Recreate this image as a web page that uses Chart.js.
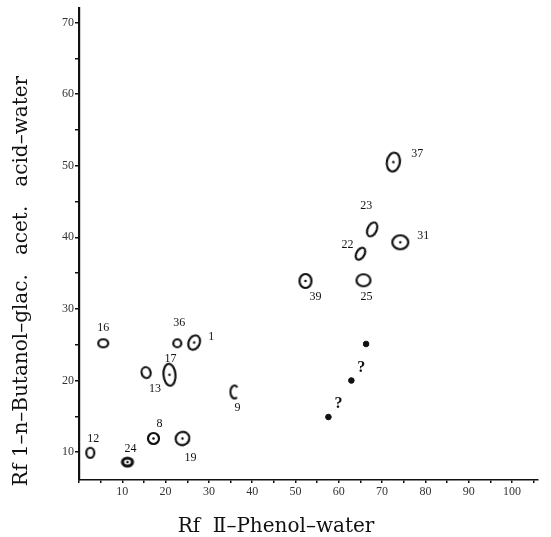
<!DOCTYPE html>
<html lang="en">
<head>
<meta charset="UTF-8">
<title>Rf map</title>
<script src="https://cdn.jsdelivr.net/npm/chart.js"></script>
<style>
  body { margin: 0; background: #fff; }
  #wrap { width: 551px; height: 537px; }
</style>
</head>
<body>
<div id="wrap"><canvas id="rfChart" width="551" height="537"></canvas></div>
<script>
// spot numbers with their Rf values (x: II phenol-water, y: I n-butanol/acetic acid/water)
const spotIds    = ['1', '8', '9', '12', '13', '16', '17', '19', '22', '23', '24', '25', '31', '36', '37', '39'];
const rfPhenol   = [26.6, 17.2, 35.9, 2.6, 15.5, 5.6, 20.9, 23.9, 65.0, 67.7, 11.2, 65.7, 74.2, 22.7, 72.6, 52.3];
const rfButanol  = [25.3, 11.9, 18.4, 9.9, 21.1, 25.2, 20.8, 11.9, 37.7, 41.1, 8.6, 34.0, 39.3, 25.2, 50.5, 33.9];

// unidentified spots
const unknownPhenol  = [57.6, 62.9, 66.3];
const unknownButanol = [14.9, 20.0, 25.1];
const unknownMarks   = ['?', '?', ''];

const xTitle = 'Rf  \u2161\u2013Phenol\u2013water';
const yTitle = 'Rf 1\u2013n\u2013Butanol\u2013glac.   acet.   acid\u2013water';

// drawing of each spot: [rx, ry, centre dot, kind], tilt in degrees, label offset in px
const spotShape = [
  [5.5, 7.5, true, ''], [5.5, 5.5, true, ''], [4, 6.5, false, 'c'], [4, 5, false, ''],
  [4.5, 5.5, false, ''], [5, 4, false, ''], [6, 11, true, ''], [7, 6.5, true, ''],
  [4, 6.5, false, ''], [4.5, 7.5, false, ''], [5, 4, true, 'thick'], [7, 6, false, ''],
  [8, 7, true, ''], [4, 4, false, ''], [6.5, 9.5, true, ''], [6, 7, true, '']
];
const spotTilt = [25, 0, 0, 0, -15, 0, -5, -30, 30, 25, 0, 0, 0, 0, 10, 0];
const labelOffset = [
  [17, -6], [6, -15], [3, 16], [3, -14], [9, 16], [0, -15], [1, -16], [8, 19],
  [-13, -9], [-6, -24], [3, -13], [3, 17], [23, -6], [2, -20], [24, -8], [10, 16]
];

function spotImage(rx, ry, dot, kind) {
    const c = document.createElement('canvas');
    const w = Math.ceil(rx * 2 + 6), h = Math.ceil(ry * 2 + 6);
    c.width = w; c.height = h;
    const g = c.getContext('2d');
    g.strokeStyle = '#111';
    g.fillStyle = '#111';
    g.lineWidth = kind === 'thick' ? 3.2 : 2.2;
    g.beginPath();
    if (kind === 'c') {
        g.ellipse(w / 2, h / 2, rx, ry, 0, Math.PI * 0.3, Math.PI * 1.75);
    } else {
        g.ellipse(w / 2, h / 2, rx, ry, 0, 0, Math.PI * 2);
    }
    g.stroke();
    if (dot) {
        g.beginPath();
        g.arc(w / 2, h / 2, 1.3, 0, Math.PI * 2);
        g.fill();
    }
    return c;
}

const spotStyles = spotShape.map(s => spotImage(s[0], s[1], s[2], s[3]));

const spotLabels = {
    id: 'spotLabels',
    afterDatasetsDraw(chart) {
        const ctx = chart.ctx;
        ctx.save();
        ctx.fillStyle = '#111';
        ctx.textAlign = 'center';
        ctx.textBaseline = 'middle';
        ctx.font = '12px "Liberation Serif"';
        chart.getDatasetMeta(0).data.forEach((pt, i) => {
            ctx.fillText(spotIds[i], pt.x + labelOffset[i][0], pt.y + labelOffset[i][1]);
        });
        ctx.font = 'bold 16px "Liberation Serif"';
        chart.getDatasetMeta(1).data.forEach((pt, i) => {
            if (unknownMarks[i]) ctx.fillText(unknownMarks[i], pt.x + 10, pt.y - 13);
        });
        ctx.restore();
    }
};

const axisTitles = {
    id: 'axisTitles',
    afterDraw(chart) {
        const ctx = chart.ctx;
        ctx.save();
        ctx.fillStyle = '#111';
        ctx.font = '20px "DejaVu Serif"';
        ctx.textAlign = 'center';
        ctx.textBaseline = 'middle';
        ctx.fillText(xTitle, 276, 527);
        ctx.translate(22, 281);
        ctx.rotate(-Math.PI / 2);
        ctx.fillText(yTitle, 0, 0);
        ctx.restore();
    }
};

new Chart(document.getElementById('rfChart'), {
    type: 'scatter',
    data: {
        datasets: [{
            label: 'spots',
            data: spotIds.map((id, i) => ({ x: rfPhenol[i], y: rfButanol[i] })),
            pointStyle: spotStyles,
            rotation: spotTilt,
            pointRadius: 6
        }, {
            label: 'unknown',
            data: unknownPhenol.map((v, i) => ({ x: v, y: unknownButanol[i] })),
            pointStyle: 'circle',
            pointRadius: 2.8,
            backgroundColor: '#111',
            borderColor: '#111',
            borderWidth: 1
        }]
    },
    options: {
        responsive: false,
        animation: false,
        layout: { padding: { top: 8, right: 13, bottom: 0, left: 0 } },
        plugins: { legend: { display: false }, tooltip: { enabled: false } },
        scales: {
            x: {
                type: 'linear',
                min: 0,
                max: 106,
                afterFit(scale) { scale.height = 57; },
                border: { display: true, color: '#111', width: 1.6 },
                grid: { drawOnChartArea: false, drawTicks: true, tickLength: 3, color: '#111', lineWidth: 1.5 },
                ticks: {
                    stepSize: 5,
                    includeBounds: false,
                    maxRotation: 0,
                    autoSkip: false,
                    padding: 2,
                    color: '#333',
                    font: { family: 'Liberation Serif', size: 12 },
                    callback: v => (v % 10 === 0 && v !== 0) ? v : ''
                }
            },
            y: {
                type: 'linear',
                min: 6.1,
                max: 72,
                afterFit(scale) { scale.width = 79; },
                border: { display: true, color: '#111', width: 2.2 },
                grid: { drawOnChartArea: false, drawTicks: true, tickLength: 4, color: '#111', lineWidth: 1.5 },
                ticks: {
                    stepSize: 5,
                    includeBounds: false,
                    autoSkip: false,
                    padding: 1,
                    color: '#333',
                    font: { family: 'Liberation Serif', size: 12 },
                    callback: v => v % 10 === 0 ? v : ''
                }
            }
        }
    },
    plugins: [spotLabels, axisTitles]
});
</script>
</body>
</html>
